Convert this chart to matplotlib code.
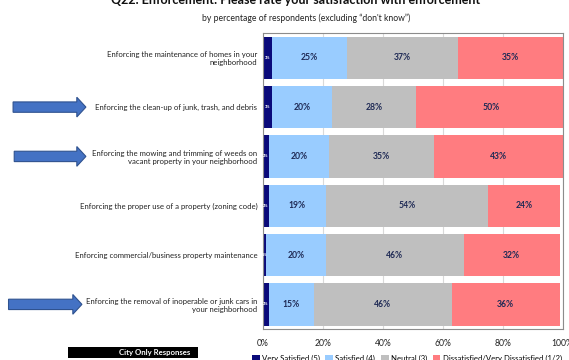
import matplotlib.pyplot as plt
from matplotlib.patches import FancyArrow, Rectangle
from matplotlib.transforms import blended_transform_factory

plt.rcParams['font.family'] = ['Lato', 'DejaVu Sans']

items = [
    "Enforcing the maintenance of homes in your\nneighborhood",
    "Enforcing the clean-up of junk, trash, and debris",
    "Enforcing the mowing and trimming of weeds on\nvacant property in your neighborhood",
    "Enforcing the proper use of a property (zoning code)",
    "Enforcing commercial/business property maintenance",
    "Enforcing the removal of inoperable or junk cars in\nyour neighborhood",
]
very_satisfied = [3, 3, 2, 2, 1, 2]
satisfied = [25, 20, 20, 19, 20, 15]
neutral = [37, 28, 35, 54, 46, 46]
dissatisfied = [35, 50, 43, 24, 32, 36]
arrow_rows = [1, 2, 5]

series = [
    ("Very Satisfied (5)", very_satisfied, "#0a0a7a"),
    ("Satisfied (4)", satisfied, "#99ccff"),
    ("Neutral (3)", neutral, "#bfbfbf"),
    ("Dissatisfied/Very Dissatisfied (1/2)", dissatisfied, "#ff7c80"),
]

fig = plt.figure(figsize=(5.69, 3.60), dpi=100)
ax = fig.add_axes([0.462, 0.086, 0.527, 0.822])

ypos = list(range(len(items)))
left = [0] * len(items)
for name, vals, col in series:
    bars = ax.barh(ypos, vals, left=left, height=0.86, color=col, label=name, zorder=2)
    for b, v in zip(bars, vals):
        cx = b.get_x() + b.get_width() / 2
        if name.startswith("Very"):
            ax.text(cx, b.get_y() + b.get_height() / 2, f"{v}%", ha='center', va='center',
                    fontsize=2.8, color='white', fontweight='bold', zorder=3)
        else:
            ax.text(cx, b.get_y() + b.get_height() / 2, f"{v}%", ha='center', va='center',
                    fontsize=6.2, color='#1f2a55', fontweight='bold', zorder=3)
    left = [l + v for l, v in zip(left, vals)]

ax.set_xlim(0, 100)
ax.set_ylim(len(items) - 0.5, -0.5)
ax.set_yticks(ypos)
ax.set_yticklabels(items, fontsize=5.6, color='#222222', multialignment='right')
ax.set_xticks([0, 20, 40, 60, 80, 100])
ax.set_xticklabels(["0%", "20%", "40%", "60%", "80%", "100%"], fontsize=6.2, color='#222222')
ax.tick_params(axis='both', length=0, pad=4)
ax.tick_params(axis='x', pad=7)
ax.grid(axis='x', color='#d9d9d9', linewidth=0.8, zorder=0)
for s in ax.spines.values():
    s.set_color('#8c8c8c')
    s.set_linewidth(0.8)

# blue block arrows pointing at the highlighted items
tr = blended_transform_factory(fig.transFigure, ax.transData)
arrow_x = {1: (0.023, 0.151), 2: (0.025, 0.151), 5: (0.015, 0.144)}
for r in arrow_rows:
    x0, x1 = arrow_x[r]
    fig.add_artist(FancyArrow(x0, r, x1 - x0, 0, width=0.21, head_width=0.40,
                              head_length=0.016, length_includes_head=True,
                              transform=tr, facecolor='#4472c4', edgecolor='#2f528f',
                              linewidth=0.8))

fig.text(0.52, 1.0, "Q22. Enforcement: Please rate your satisfaction with enforcement",
         ha='center', va='center', fontsize=9, fontweight='bold', color='#111111')
fig.text(0.538, 0.948, "by percentage of respondents (excluding \u201cdon't know\u201d)",
         ha='center', va='center', fontsize=6.2, color='#222222')

# "City Only Responses" black tag
fig.add_artist(Rectangle((0.12, 0.006), 0.228, 0.031, transform=fig.transFigure,
                         facecolor='black', edgecolor='none'))
fig.text(0.335, 0.021, "City Only Responses", ha='right', va='center',
         fontsize=5.6, color='white', fontweight='bold')

fig.legend(loc='center', bbox_to_anchor=(0.715, 0.004), ncol=4, frameon=False,
           fontsize=5.6, handlelength=1.0, handleheight=0.9, handletextpad=0.3,
           columnspacing=0.7, borderaxespad=0)

fig.savefig("out.png", dpi=100)
